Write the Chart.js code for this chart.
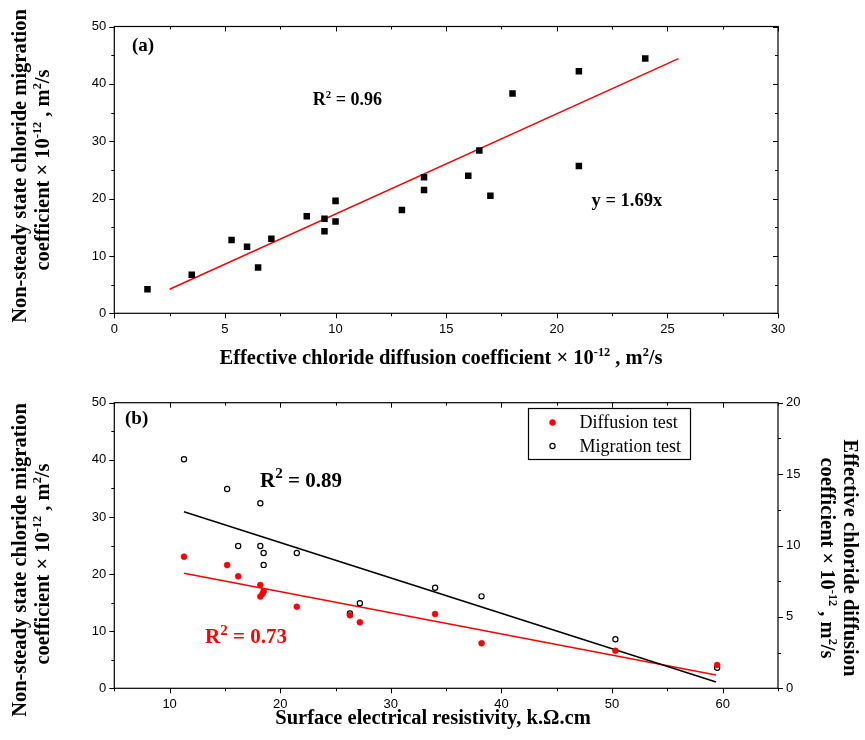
<!DOCTYPE html>
<html>
<head>
<meta charset="utf-8">
<script src="https://cdn.jsdelivr.net/npm/chart.js@4.4.0/dist/chart.umd.min.js"></script>
<style>
  body { margin: 0; background: #fff; }
  #wrap { position: relative; width: 865px; height: 740px; }
  canvas { position: absolute; left: 0; }
  #chartA { top: 0; }
  #chartB { top: 380px; }
</style>
</head>
<body>
<div id="wrap">
  <canvas id="chartA" width="865" height="380"></canvas>
  <canvas id="chartB" width="865" height="360"></canvas>
</div>
<script>
/* PANEL (a) DATA */
const effDiff = [1.5, 3.5, 5.3, 6.0, 6.5, 7.1, 8.7, 9.5, 9.5, 10, 10, 13, 14, 14, 16, 16.5, 17, 18, 21, 21, 24];
const nssmA = [4.2, 6.7, 12.8, 11.6, 8.0, 13.0, 16.9, 16.5, 14.3, 19.6, 16.0, 18.0, 23.7, 21.5, 24.0, 28.4, 20.5, 38.3, 42.2, 25.7, 44.4];
const fitAx = [2.5, 25.5];
const fitAy = [4.2, 44.4];
const xTicksA = [0, 5, 10, 15, 20, 25, 30];
const yTicksA = [0, 10, 20, 30, 40, 50];

/* PANEL (b) DATA */
const resMig = [11.3, 15.2, 18.2, 16.2, 18.2, 18.5, 18.5, 21.5, 26.3, 27.2, 34.0, 38.2, 50.3, 59.5];
const migVal = [40.1, 34.9, 32.4, 24.9, 24.9, 23.7, 21.6, 23.7, 13.1, 14.9, 17.6, 16.1, 8.6, 3.6];
const resDif = [11.3, 15.2, 16.2, 18.2, 18.5, 18.4, 18.2, 21.5, 26.3, 27.2, 34.0, 38.2, 50.3, 59.5];
const difVal = [9.22, 8.63, 7.84, 7.23, 6.79, 6.62, 6.42, 5.71, 5.11, 4.62, 5.2, 3.15, 2.63, 1.63];
const fitMigX = [11.3, 59.4];
const fitMigY = [30.9, 1.1];
const fitDifX = [11.3, 59.4];
const fitDifY = [8.05, 0.93];
const xTicksB = [10, 20, 30, 40, 50, 60];
const yTicksB = [0, 10, 20, 30, 40, 50];
const y2TicksB = [0, 5, 10, 15, 20];

const SERIF = '"Liberation Serif", "Times New Roman", serif';
const SANS = '"Liberation Sans", Arial, sans-serif';

const pts = (xs, ys) => xs.map((x, i) => ({ x, y: ys[i] }));

function minors(major, step, min, max) {
  const out = [];
  for (let v = min; v <= max + 1e-9; v += step) {
    if (!major.some((m) => Math.abs(m - v) < 1e-6)) out.push(v);
  }
  return out;
}

/* rich text: parts = [[text, isSup], ...], y is baseline */
function richText(ctx, parts, x, y, o) {
  const size = o.size;
  const supS = size * (o.supScale || 0.6);
  const font = (s) => `${o.weight || "bold"} ${s}px ${SERIF}`;
  ctx.save();
  ctx.translate(x, y);
  if (o.rot) ctx.rotate(o.rot);
  ctx.fillStyle = o.color || "#000";
  ctx.textBaseline = "alphabetic";
  ctx.textAlign = "left";
  let w = 0;
  parts.forEach(([t, sup]) => {
    ctx.font = font(sup ? supS : size);
    w += ctx.measureText(t).width;
  });
  let cx = o.align === "center" ? -w / 2 : 0;
  parts.forEach(([t, sup]) => {
    ctx.font = font(sup ? supS : size);
    ctx.fillText(t, cx, sup ? -size * (o.rise || 0.38) : 0);
    cx += ctx.measureText(t).width;
  });
  ctx.restore();
}

/* FRAME, TICKS, TEXT */
const frame = {
  id: "frame",
  afterDraw(chart, args, opts) {
    const { ctx, chartArea: a } = chart;
    ctx.save();
    ctx.strokeStyle = "#000";
    ctx.lineWidth = 1.2;
    ctx.strokeRect(a.left, a.top, a.right - a.left, a.bottom - a.top);
    ctx.lineWidth = 1;
    opts.sides.forEach((sd) => {
      const sc = chart.scales[sd.scale];
      const draw = (vals, len) => {
        vals.forEach((v) => {
          const p = Math.round(sc.getPixelForValue(v)) + 0.5;
          const d = sd.out ? len : -len;
          ctx.beginPath();
          if (sd.edge === "bottom") { ctx.moveTo(p, a.bottom); ctx.lineTo(p, a.bottom + d); }
          if (sd.edge === "top") { ctx.moveTo(p, a.top); ctx.lineTo(p, a.top - d); }
          if (sd.edge === "left") { ctx.moveTo(a.left, p); ctx.lineTo(a.left - d, p); }
          if (sd.edge === "right") { ctx.moveTo(a.right, p); ctx.lineTo(a.right + d, p); }
          ctx.stroke();
        });
      };
      draw(sd.major, 5);
      draw(sd.minor, 3);
    });

    (opts.notes || []).forEach((n) => {
      const x = chart.scales.x.getPixelForValue(n.x);
      const y = chart.scales[n.axis || "y"].getPixelForValue(n.y);
      richText(ctx, n.parts, x, y, n);
    });
    (opts.titles || []).forEach((t) => {
      t.lines.forEach((ln) => richText(ctx, ln.parts, ln.x, ln.y, t));
    });

    if (opts.legend) {
      const L = opts.legend;
      ctx.lineWidth = 1.2;
      ctx.strokeRect(L.left, L.top, L.width, L.height);
      chart.data.datasets.forEach((ds, i) => {
        if (!ds.label) return;
        const row = L.rows.indexOf(ds.label);
        const cy = L.top + L.rowY[row];
        ctx.beginPath();
        ctx.arc(L.left + 24, cy, ds.pointRadius, 0, Math.PI * 2);
        ctx.fillStyle = ds.backgroundColor;
        ctx.fill();
        ctx.lineWidth = ds.borderWidth;
        ctx.strokeStyle = ds.borderColor;
        ctx.stroke();
        ctx.fillStyle = "#000";
        ctx.font = `18px ${SERIF}`;
        ctx.textBaseline = "middle";
        ctx.textAlign = "left";
        ctx.fillText(ds.label, L.left + 51, cy + 1);
      });
    }
    ctx.restore();
  },
};

function axis(min, max, tickVals, extra) {
  return Object.assign(
    {
      type: "linear",
      min,
      max,
      grid: { display: false, drawTicks: false },
      border: { display: false },
      afterBuildTicks: (s) => {
        s.ticks = tickVals.map((v) => ({ value: v }));
      },
      ticks: {
        autoSkip: false,
        maxRotation: 0,
        color: "#000",
        padding: 8,
        font: { family: SANS, size: 13 },
      },
    },
    extra,
  );
}

const unitLines = (x, y) => ({
  x, y,
  parts: [["coefficient \u00d7 10"], ["-12", true], [" , m"], ["2", true], ["/s"]],
});

/* CHART (a) */
new Chart(document.getElementById("chartA"), {
  type: "scatter",
  data: {
    datasets: [
      {
        data: pts(effDiff, nssmA),
        pointStyle: "rect",
        pointRadius: 4.6,
        backgroundColor: "#000",
        borderWidth: 0,
      },
      {
        data: pts(fitAx, fitAy),
        showLine: true,
        borderColor: "#ff0000",
        borderWidth: 1.5,
        pointRadius: 0,
      },
    ],
  },
  options: {
    responsive: false,
    animation: false,
    layout: { padding: { left: 0, top: 26.5, right: 87, bottom: 0 } },
    plugins: {
      legend: { display: false },
      tooltip: { enabled: false },
      frame: {
        sides: [
          { scale: "x", edge: "bottom", out: true, major: xTicksA, minor: minors(xTicksA, 2.5, 0, 30) },
          { scale: "x", edge: "top", out: false, major: xTicksA, minor: minors(xTicksA, 2.5, 0, 30) },
          { scale: "y", edge: "left", out: true, major: yTicksA, minor: minors(yTicksA, 5, 0, 50) },
          { scale: "y", edge: "right", out: false, major: yTicksA, minor: minors(yTicksA, 5, 0, 50) },
        ],
        notes: [
          { x: 0.8, y: 45.7, size: 19, parts: [["(a)"]] },
          { x: 8.97, y: 36.3, size: 18, parts: [["R"], ["2", true], [" = 0.96"]] },
          { x: 21.57, y: 18.7, size: 18.5, parts: [["y = 1.69x"]] },
        ],
        titles: [
          { size: 20.5, align: "center", lines: [{ x: 441, y: 364, parts: [["Effective chloride diffusion coefficient \u00d7 10"], ["-12", true], [" , m"], ["2", true], ["/s"]] }] },
          { size: 20.5, align: "center", rot: -Math.PI / 2, lines: [
            { x: 26, y: 166, parts: [["Non-steady state chloride migration"]] },
            unitLines(49, 170),
          ] },
        ],
      },
    },
    scales: {
      x: axis(0, 30, xTicksA, { position: "bottom", afterFit: (s) => { s.height = 66.7; } }),
      y: axis(0, 50, yTicksA, { position: "left", afterFit: (s) => { s.width = 114.3; } }),
    },
  },
  plugins: [frame],
});

/* CHART (b) */
new Chart(document.getElementById("chartB"), {
  type: "scatter",
  data: {
    datasets: [
      {
        label: "Diffusion test",
        yAxisID: "y2",
        data: pts(resDif, difVal),
        pointRadius: 3,
        backgroundColor: "#ff0000",
        borderColor: "#ff0000",
        borderWidth: 0.5,
      },
      {
        label: "Migration test",
        yAxisID: "y",
        data: pts(resMig, migVal),
        pointRadius: 2.6,
        backgroundColor: "#fff",
        borderColor: "#000",
        borderWidth: 1.2,
      },
      {
        yAxisID: "y",
        data: pts(fitMigX, fitMigY),
        showLine: true,
        borderColor: "#000",
        borderWidth: 1.5,
        pointRadius: 0,
      },
      {
        yAxisID: "y2",
        data: pts(fitDifX, fitDifY),
        showLine: true,
        borderColor: "#ff0000",
        borderWidth: 1.5,
        pointRadius: 0,
      },
    ],
  },
  options: {
    responsive: false,
    animation: false,
    layout: { padding: { left: 0, top: 22.7, right: 0, bottom: 0 } },
    plugins: {
      legend: { display: false },
      tooltip: { enabled: false },
      frame: {
        sides: [
          { scale: "x", edge: "bottom", out: true, major: xTicksB, minor: minors(xTicksB, 5, 5, 65) },
          { scale: "x", edge: "top", out: false, major: xTicksB, minor: minors(xTicksB, 5, 5, 65) },
          { scale: "y", edge: "left", out: true, major: yTicksB, minor: minors(yTicksB, 5, 0, 50) },
          { scale: "y2", edge: "right", out: true, major: y2TicksB, minor: minors(y2TicksB, 2.5, 0, 20) },
        ],
        notes: [
          { x: 5.97, y: 46.3, size: 19, parts: [["(b)"]] },
          { x: 18.17, y: 35.2, size: 21, supScale: 0.72, rise: 0.42, parts: [["R"], ["2", true], [" = 0.89"]] },
          { x: 13.2, y: 7.85, size: 21, supScale: 0.72, rise: 0.42, color: "#ff0000", parts: [["R"], ["2", true], [" = 0.73"]] },
        ],
        titles: [
          { size: 20.5, align: "center", lines: [{ x: 433, y: 344, parts: [["Surface electrical resistivity, k.\u03a9.cm"]] }] },
          { size: 20.5, align: "center", rot: -Math.PI / 2, lines: [
            { x: 26, y: 180, parts: [["Non-steady state chloride migration"]] },
            unitLines(49, 184),
          ] },
          { size: 20.5, align: "center", rot: Math.PI / 2, lines: [
            { x: 844, y: 178, parts: [["Effective chloride diffusion"]] },
            unitLines(821, 178),
          ] },
        ],
        legend: { left: 528.5, top: 28.5, width: 162, height: 51, rows: ["Diffusion test", "Migration test"], rowY: [14, 37.5] },
      },
    },
    scales: {
      x: axis(5, 65, xTicksB, { position: "bottom", afterFit: (s) => { s.height = 51.7; } }),
      y: axis(0, 50, yTicksB, { position: "left", afterFit: (s) => { s.width = 114.3; } }),
      y2: axis(0, 20, y2TicksB, { position: "right", afterFit: (s) => { s.width = 87; } }),
    },
  },
  plugins: [frame],
});
</script>
</body>
</html>
